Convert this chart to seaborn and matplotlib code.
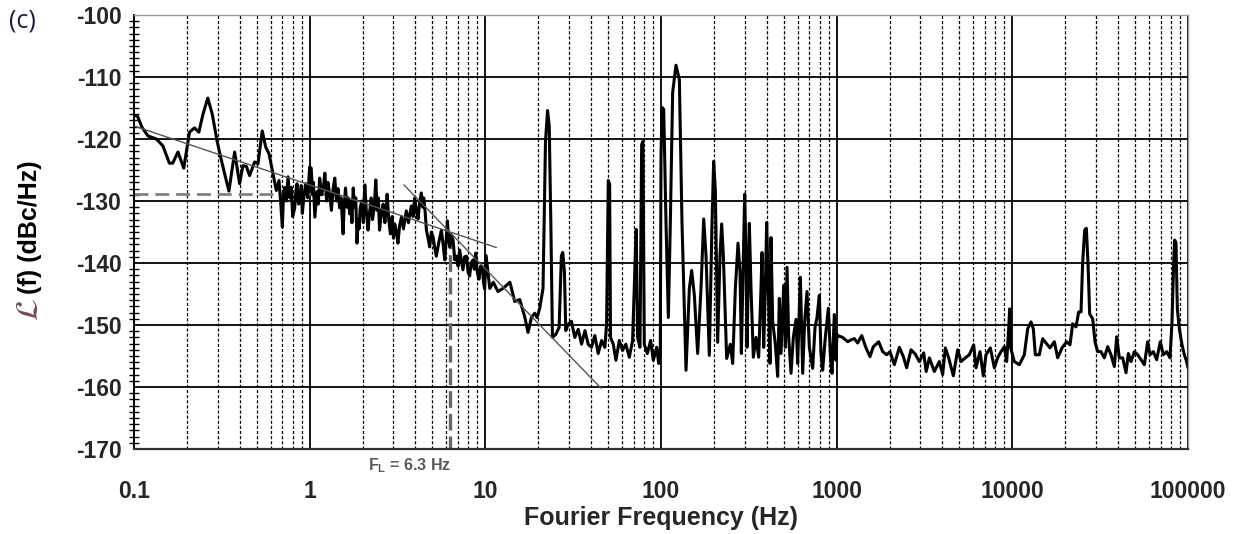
import numpy as np
import pandas as pd
import matplotlib
matplotlib.use("Agg")
import matplotlib.pyplot as plt
from matplotlib.ticker import LogLocator, MultipleLocator, NullFormatter
from matplotlib.transforms import blended_transform_factory
import seaborn as sns

# ---- measured single-sideband phase noise, L(f) in dBc/Hz ----
# 0.1 Hz - 1 Hz
freq_a = [0.100, 0.105, 0.111, 0.120, 0.134, 0.146, 0.159, 0.166, 0.178, 0.192,
          0.207, 0.221, 0.234, 0.247, 0.263, 0.279, 0.297, 0.310, 0.328, 0.347,
          0.374, 0.399, 0.417, 0.436, 0.455, 0.486, 0.508, 0.537, 0.562, 0.587,
          0.618, 0.646, 0.669, 0.685, 0.699, 0.710, 0.720, 0.736, 0.753, 0.770,
          0.786, 0.800, 0.821, 0.835, 0.847, 0.865, 0.885, 0.895, 0.908, 0.930,
          0.949, 0.975, 1.000]
level_a = [-116.1, -116.4, -118.1, -119.5, -120.0, -121.1, -123.9, -123.9, -122.1, -124.7,
           -118.9, -118.2, -118.9, -116.0, -113.4, -116.0, -120.3, -122.7, -125.6, -128.4,
           -122.1, -127.2, -124.3, -124.4, -125.9, -123.7, -124.0, -118.7, -121.3, -122.4,
           -125.6, -128.3, -126.7, -130.5, -134.2, -129.0, -127.8, -130.0, -126.1, -129.5,
           -127.8, -132.5, -131.2, -128.5, -127.2, -130.5, -129.4, -127.5, -132.0, -129.0,
           -127.2, -129.5, -124.5]

# 1 Hz - 10 Hz
freq_b = [1.02, 1.04, 1.05, 1.07, 1.10, 1.12, 1.14, 1.17, 1.20, 1.22,
          1.25, 1.27, 1.30, 1.33, 1.36, 1.39, 1.42, 1.45, 1.48, 1.51,
          1.55, 1.57, 1.60, 1.63, 1.66, 1.69, 1.72, 1.74, 1.77, 1.80,
          1.83, 1.86, 1.89, 1.91, 1.94, 1.98, 2.02, 2.06, 2.10, 2.15,
          2.19, 2.24, 2.28, 2.33, 2.38, 2.42, 2.46, 2.50, 2.56, 2.62,
          2.68, 2.72, 2.76, 2.82, 2.88, 2.95, 3.00, 3.05, 3.12, 3.18,
          3.25, 3.33, 3.42, 3.55, 3.65, 3.79, 3.88, 3.96, 4.05, 4.14,
          4.22, 4.32, 4.40, 4.46, 4.55, 4.62, 4.72, 4.82, 4.93, 5.04,
          5.15, 5.26, 5.45, 5.62, 5.75, 5.87, 5.98, 6.08, 6.18, 6.27,
          6.40, 6.55, 6.70, 6.84, 7.00, 7.14, 7.30, 7.46, 7.62, 7.80,
          7.98, 8.14, 8.30, 8.51, 8.65, 8.81, 9.00, 9.20, 9.40, 9.61,
          9.75, 9.91]
level_b = [-124.7, -129.0, -127.0, -132.6, -128.5, -130.5, -126.3, -129.0, -127.5, -125.5,
           -130.0, -127.0, -128.9, -131.5, -128.0, -126.3, -130.0, -128.0, -131.1, -129.5,
           -135.3, -131.0, -127.9, -131.0, -129.5, -132.1, -130.0, -133.5, -127.9, -131.0,
           -129.5, -136.8, -133.0, -134.5, -131.1, -130.0, -133.5, -127.4, -131.5, -134.7,
           -132.0, -129.5, -133.0, -131.0, -126.6, -131.5, -129.5, -134.7, -132.0, -130.5,
           -133.5, -131.5, -128.9, -133.0, -135.3, -132.5, -136.0, -133.7, -135.0, -136.8,
           -134.0, -132.6, -134.5, -131.6, -133.5, -130.8, -132.5, -129.5, -131.5, -132.9,
           -130.5, -128.7, -131.0, -129.5, -132.0, -134.7, -136.0, -137.4, -135.0, -135.8,
           -137.5, -138.9, -136.5, -134.7, -137.0, -139.5, -136.5, -133.2, -136.0, -137.4,
           -135.5, -136.3, -139.5, -138.9, -140.5, -137.9, -139.5, -141.1, -139.0, -138.9,
           -141.5, -142.1, -140.0, -139.5, -141.0, -138.4, -141.5, -142.6, -140.5, -140.5,
           -143.0, -144.2]

# 10 Hz - 100 Hz
freq_c = [10.1, 10.6, 11.1, 11.8, 12.6, 13.8, 14.7, 15.7, 16.8, 17.5,
          18.3, 19.1, 19.7, 20.4, 21.3, 22.0, 22.6, 23.1, 23.6, 24.1,
          25.2, 26.3, 27.1, 27.6, 28.2, 28.7, 29.6, 30.9, 32.3, 33.8,
          35.3, 36.9, 38.5, 40.2, 42.0, 43.9, 45.9, 47.9, 49.0, 50.1,
          51.0, 51.6, 53.5, 55.4, 57.9, 60.4, 63.1, 66.0, 68.9, 71.4,
          72.3, 73.6, 75.9, 77.6, 78.9, 80.3, 83.6, 87.3, 90.4, 94.5]
level_c = [-138.8, -144.1, -143.1, -144.6, -144.1, -143.1, -146.2, -145.9, -148.8, -151.2,
           -148.8, -148.1, -148.8, -147.3, -144.1, -120.4, -115.4, -117.8, -133.6, -152.0,
           -151.5, -150.4, -138.8, -138.3, -141.5, -150.9, -149.9, -149.4, -152.0, -150.7,
           -153.1, -150.9, -153.1, -153.6, -151.7, -154.6, -152.5, -153.6, -149.9, -126.7,
           -127.3, -152.0, -153.1, -155.7, -152.5, -154.1, -153.1, -155.2, -152.5, -138.8,
           -134.6, -152.0, -153.6, -120.9, -120.4, -153.1, -154.6, -152.5, -155.7, -153.6]

# 100 Hz - 1 kHz (mains harmonics)
freq_d = [97.0, 99.1, 100.0, 101.3, 103.6, 106.8, 110.1, 113.0, 116.5, 121.7,
          127.2, 131.7, 138.8, 145.0, 149.5, 154.8, 161.7, 168.9, 175.0, 180.4,
          188.4, 195.1, 199.4, 203.9, 210.2, 216.7, 221.5, 226.4, 236.5, 248.1,
          255.9, 265.0, 274.4, 281.7, 286.7, 294.3, 299.5, 304.7, 308.7, 314.2,
          318.3, 325.4, 335.5, 347.4, 359.8, 370.9, 375.8, 384.1, 392.6, 399.5,
          408.3, 417.4, 422.9, 432.2, 447.6, 461.5, 471.7, 482.2, 499.4, 510.4,
          521.7, 533.2, 549.6, 566.7, 586.9, 599.8, 621.3, 640.6, 657.6, 677.9,
          698.9, 730.2, 752.9, 772.7, 796.7, 814.3, 832.3, 861.9, 896.5, 920.2,
          940.6, 969.8, 991.3]
level_d = [-156.2, -153.6, -123.1, -114.9, -115.2, -133.6, -148.8, -133.6, -112.5, -108.1,
           -110.4, -133.6, -157.3, -144.1, -141.2, -145.2, -154.6, -144.1, -132.9, -138.8,
           -154.9, -133.6, -123.6, -128.3, -152.8, -138.8, -133.7, -138.8, -155.4, -153.1,
           -156.2, -144.1, -136.8, -141.5, -154.6, -138.8, -128.9, -138.8, -153.6, -141.5,
           -133.6, -144.1, -155.2, -152.0, -155.2, -144.1, -138.3, -153.6, -144.1, -133.5,
           -144.1, -156.2, -135.9, -149.4, -153.1, -158.3, -145.7, -154.6, -143.6, -153.6,
           -140.7, -152.0, -157.8, -152.0, -149.1, -156.2, -142.3, -157.8, -149.4, -144.6,
           -153.6, -157.0, -150.4, -148.8, -145.2, -154.6, -157.3, -152.0, -147.3, -154.6,
           -157.8, -148.3, -155.7]

# 1 kHz - 100 kHz
freq_e = [1004, 1013, 1082, 1155, 1207, 1261, 1317, 1388, 1469, 1548,
          1617, 1734, 1828, 1926, 2012, 2130, 2274, 2396, 2503, 2650,
          2804, 2955, 3129, 3233, 3370, 3597, 3841, 4012, 4155, 4341,
          4615, 4885, 5104, 5401, 5691, 6025, 6212, 6547, 6838, 7080,
          7497, 7899, 8250, 8619, 9005, 9284, 9531, 9655, 9784, 10266,
          10960, 11702, 12228, 12776, 13168, 13518, 14245, 14882, 15548, 16388,
          17345, 18122, 19172, 20384, 21296, 22055, 23041, 23863, 24603, 25136,
          25805, 26376, 26960, 27555, 28663, 29553, 30605, 31972, 33400, 34893,
          36452, 38082, 39261, 40660, 42480, 44378, 45749, 47381, 49496, 51708,
          54013, 56427, 58950, 60779, 63487, 66300, 69577, 72380, 75610, 78985,
          81083, 82875, 83971, 85454, 86963, 89273, 92459, 95321, 98261, 100000]
level_e = [-151.5, -151.7, -152.0, -152.7, -152.4, -152.2, -152.9, -151.7, -153.7, -155.1,
           -153.5, -152.7, -154.3, -154.8, -154.3, -156.4, -153.6, -155.1, -156.9, -154.0,
           -154.7, -155.9, -154.5, -157.5, -155.3, -157.5, -155.9, -158.0, -153.7, -155.3,
           -158.2, -154.0, -155.9, -155.3, -154.8, -153.2, -156.9, -154.3, -158.2, -154.8,
           -153.7, -156.9, -155.3, -154.3, -153.5, -155.9, -150.6, -147.4, -153.7, -155.9,
           -156.4, -154.8, -150.6, -149.5, -150.6, -154.8, -154.8, -152.2, -152.9, -153.7,
           -152.7, -155.3, -153.7, -152.7, -153.2, -149.8, -150.3, -147.9, -147.9, -140.0,
           -134.7, -134.4, -140.0, -148.2, -149.0, -152.7, -154.3, -154.3, -155.3, -153.5,
           -154.8, -156.7, -151.9, -155.3, -155.3, -157.7, -154.6, -155.9, -154.3, -154.8,
           -155.6, -156.4, -152.7, -154.8, -154.3, -155.6, -152.7, -154.8, -154.3, -155.3,
           -149.5, -140.0, -136.3, -136.8, -147.4, -150.6, -153.2, -154.8, -155.9, -156.9]

# power-law fits: flicker (1/f) and 1/f^3 asymptotes
fit1_freq = [0.1, 11.55]
fit1_level = [-117.9, -137.5]
fit3_freq = [3.44, 45.6]
fit3_level = [-127.4, -160.2]

# Leeson corner
corner_freq = 6.3
corner_level = -135.0
floor_level = -128.9
floor_end_freq = 1.4

x_ticks = [0.1, 1, 10, 100, 1000, 10000, 100000]
x_tick_labels = ["0.1", "1", "10", "100", "1000", "10000", "100000"]
y_ticks = [-170, -160, -150, -140, -130, -120, -110, -100]
y_tick_labels = ["-170", "-160", "-150", "-140", "-130", "-120", "-110", "-100"]

sns.set_theme(style="white")
plt.rcParams.update({
    "font.family": ["Liberation Sans", "DejaVu Sans"],
    "axes.unicode_minus": False,
    "mathtext.fontset": "custom",
    "mathtext.rm": "Liberation Sans",
    "mathtext.bf": "Liberation Sans:bold",
})

spectrum = pd.DataFrame({
    "freq": np.concatenate([freq_a, freq_b, freq_c, freq_d, freq_e]),
    "level": np.concatenate([level_a, level_b, level_c, level_d, level_e]),
})

fig = plt.figure(figsize=(12.47, 5.34), dpi=100)
ax = fig.add_axes([134 / 1247, 1 - 449 / 534, 1054 / 1247, 434 / 534])

ax.set_xscale("log")
ax.set_xlim(0.1, 1e5)
ax.set_ylim(-170, -100)

# grid: solid decades / 10 dB lines, fine dashed minor decades
ax.set_axisbelow(True)
ax.xaxis.set_minor_locator(LogLocator(base=10, subs=np.arange(2, 10)))
ax.xaxis.set_minor_formatter(NullFormatter())
ax.yaxis.set_minor_locator(MultipleLocator(1))
ax.grid(which="major", axis="both", color="black", lw=1.3, ls="-")
ax.grid(which="minor", axis="x", color="black", lw=0.9, ls=(0, (2.5, 1.6)))

# fit lines and corner markers
ax.plot(fit1_freq, fit1_level, color="#555555", lw=1.0, zorder=3)
ax.plot(fit3_freq, fit3_level, color="#555555", lw=1.0, zorder=3)
ax.plot([0.1, floor_end_freq], [floor_level, floor_level], color="#808080",
        lw=2.0, ls=(0, (5, 2.5)), zorder=1.5)
ax.plot([corner_freq, corner_freq], [corner_level, -170], color="#666666",
        lw=2.4, ls=(0, (5, 1.8)), zorder=1.5)

sns.lineplot(data=spectrum, x="freq", y="level", ax=ax, sort=False,
             estimator=None, color="black", lw=2.2, zorder=2)

ax.set_xticks(x_ticks, labels=x_tick_labels, fontsize=16.5, fontweight="bold")
ax.set_yticks(y_ticks, labels=y_tick_labels, fontsize=16.5, fontweight="bold")
ax.tick_params(axis="x", which="major", direction="out", length=6, width=1.2,
               color="black", pad=16.5)
ax.tick_params(axis="x", which="minor", length=0)
ax.tick_params(axis="y", which="major", direction="inout", length=12, width=1.2,
               color="black", pad=3)
ax.tick_params(axis="y", which="minor", direction="inout", length=7, width=1.0,
               color="black", left=True)

for side in ("top", "right"):
    ax.spines[side].set_color("#9a9a9a")
    ax.spines[side].set_linewidth(1.0)
ax.spines["left"].set_color("black")
ax.spines["left"].set_linewidth(1.4)
ax.spines["bottom"].set_color("#333333")
ax.spines["bottom"].set_linewidth(1.6)

ax.set_xlabel("Fourier Frequency (Hz)", fontsize=18, fontweight="bold")
ax.xaxis.set_label_coords(0.5, -(518 - 449) / 434)
ax.xaxis.label.set_va("center")
ax.set_ylabel("")

trans = blended_transform_factory(ax.transData, ax.transAxes)
ax.text(3.72, -(466 - 449) / 434, r"F$_\mathbf{L}$ = 6.3 Hz", transform=trans,
        ha="center", va="center", fontsize=11.5, fontweight="bold", color="#595959")

# y-axis title: script L in colour followed by the unit text
fig.text(30 / 1247, 1 - 310 / 534, r"$\mathcal{L}$", rotation=90, ha="center",
         va="center", fontsize=23, color="#7b4b55", math_fontfamily="stix")
fig.text(30 / 1247, 1 - 227 / 534, "(f) (dBc/Hz)", rotation=90, ha="center",
         va="center", fontsize=18, fontweight="bold", color="black")

fig.text(22 / 1247, 1 - 21 / 534, "(c)", ha="center", va="center", fontsize=18,
         family="Open Sans", color="#1c1c3c")

fig.savefig("out.png", dpi=100)
